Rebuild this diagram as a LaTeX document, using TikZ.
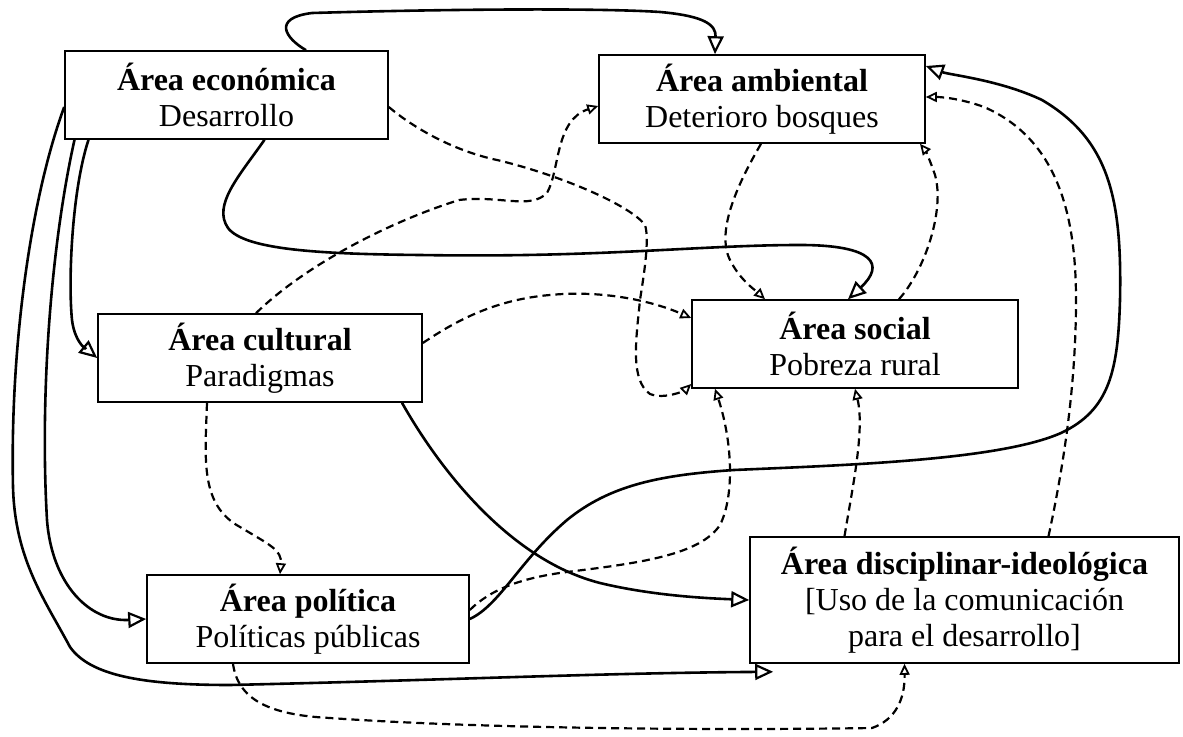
\documentclass[tikz,border=0pt]{standalone}
\usepackage{fontspec}
\setmainfont{Liberation Serif}
\usetikzlibrary{calc}
\usetikzlibrary{arrows.meta}

\tikzset{
 areabox/.style={draw, line width=.8pt, rectangle, inner sep=0, align=center, minimum height=44pt, font=\fontsize{16pt}{18pt}\selectfont},
 link/.style={line width=1.3pt, -{Triangle[open, length=9pt, width=8pt, line width=1.1pt]}},
 dlink/.style={line width=1.1pt, dash pattern=on 4pt off 2.5pt, -{Triangle[open, length=5.5pt, width=5pt, line width=.9pt]}}
}

\begin{document}
\begin{tikzpicture}[x=.5pt, y=-.5pt]
\useasboundingbox (0,0) rectangle (1183,737);
\node[areabox, minimum width=161.5pt] (eco) at (226.5,95) {\textbf{Área económica}\\Desarrollo};
\node[areabox, minimum width=163pt] (amb) at (762,99) {\textbf{Área ambiental}\\Deterioro bosques};
\node[areabox, minimum width=162pt] (cul) at (260,358) {\textbf{Área cultural}\\Paradigmas};
\node[areabox, minimum width=163pt] (soc) at (855,344) {\textbf{Área social}\\Pobreza rural};
\node[areabox, minimum width=161pt] (pol) at (308,619) {\textbf{Área política}\\Políticas públicas};
\node[areabox, minimum width=214.5pt, minimum height=63pt] (dis) at (964.5,600) {\textbf{Área disciplinar-ideológica}\\{}[Uso de la comunicación\\para el desarrollo]};

\draw[link] ([xshift=39.75pt]eco.north) .. controls (285,38) and (272,18) .. (312,13) .. controls (450,9) and (600,8) .. (660,12) .. controls (705,16) and (716,25) .. ([xshift=-23.5pt]amb.north);
\draw[link] ([xshift=19pt]eco.south) .. controls (240,175) and (212,205) .. (228,228) .. controls (245,250) and (320,254) .. (420,255) .. controls (600,258) and (700,245) .. (800,245) .. controls (875,245) and (885,265) .. ([xshift=-3.5pt]soc.north);
\draw[link] ([xshift=-69pt]eco.south) .. controls (72,190) and (68,280) .. (72,320) .. controls (75,345) and (90,352) .. (cul.west);
\draw[link] ([xshift=-76pt]eco.south) .. controls (50,250) and (40,400) .. (47,520) .. controls (52,585) and (90,622) .. (pol.west);
\draw[link] ([yshift=-6pt]eco.west) .. controls (30,200) and (10,350) .. (13,487) .. controls (15,560) and (45,600) .. (70,647) .. controls (90,675) and (140,685) .. (230,685) .. controls (450,680) and (600,673) .. ([xshift=12pt,yshift=-4pt]dis.south west);
\draw[link] ([xshift=71pt]cul.south) .. controls (440,470) and (510,560) .. (600,583) .. controls (650,595) and (700,598) .. (dis.west);
\draw[link] (pol.east) .. controls (500,605) and (520,560) .. (567,520) .. controls (610,485) and (660,475) .. (734,470) .. controls (850,465) and (1000,460) .. (1061,433) .. controls (1110,410) and (1118,370) .. (1120,300) .. controls (1122,200) and (1110,140) .. (1042,100) .. controls (1000,80) and (950,75) .. ([yshift=16.5pt]amb.east);

\draw[dlink] ([yshift=-6pt]eco.east) .. controls (410,125) and (450,150) .. (497,160) .. controls (560,175) and (630,205) .. (645,225) .. controls (650,240) and (643,280) .. (640,300) .. controls (636,340) and (630,380) .. (650,394) .. controls (665,400) and (685,390) .. ([yshift=-20pt]soc.west);
\draw[dlink] ([xshift=-2pt]cul.north) .. controls (300,270) and (380,225) .. (459,200) .. controls (500,195) and (530,210) .. (547,193) .. controls (560,170) and (555,120) .. ([yshift=-3.5pt]amb.west);
\draw[dlink] ([yshift=7.5pt]cul.east) .. controls (450,325) and (490,300) .. (550,295) .. controls (600,290) and (650,300) .. ([yshift=13pt]soc.west);
\draw[dlink] ([xshift=-.5pt]amb.south) .. controls (740,180) and (715,230) .. (730,260) .. controls (740,280) and (755,290) .. ([xshift=-45pt]soc.north);
\draw[dlink] ([xshift=22pt]soc.north) .. controls (925,270) and (945,210) .. (935,175) .. controls (930,160) and (925,150) .. ([xshift=79pt]amb.south);
\draw[dlink] ([xshift=-37.5pt]pol.south) .. controls (238,700) and (270,715) .. (330,718) .. controls (500,730) and (750,730) .. (872,728) .. controls (895,720) and (905,700) .. ([xshift=-30pt]dis.south);
\draw[dlink] ([xshift=-26.5pt]cul.south) .. controls (205,460) and (200,505) .. (240,527) .. controls (270,545) and (282,550) .. ([xshift=-14pt]pol.north);
\draw[dlink] ([yshift=4.5pt]pol.east) .. controls (490,590) and (520,578) .. (567,572) .. controls (640,563) and (700,555) .. (720,525) .. controls (735,495) and (732,440) .. ([xshift=-70pt]soc.south);
\draw[dlink] ([xshift=-60pt]dis.north) .. controls (852,490) and (865,430) .. (soc.south);
\draw[dlink] ([xshift=42pt]dis.north) .. controls (1065,460) and (1076,380) .. (1076,300) .. controls (1076,220) and (1060,140) .. (984,107) .. controls (965,100) and (945,97) .. ([yshift=1pt]amb.east);
\end{tikzpicture}
\end{document}
